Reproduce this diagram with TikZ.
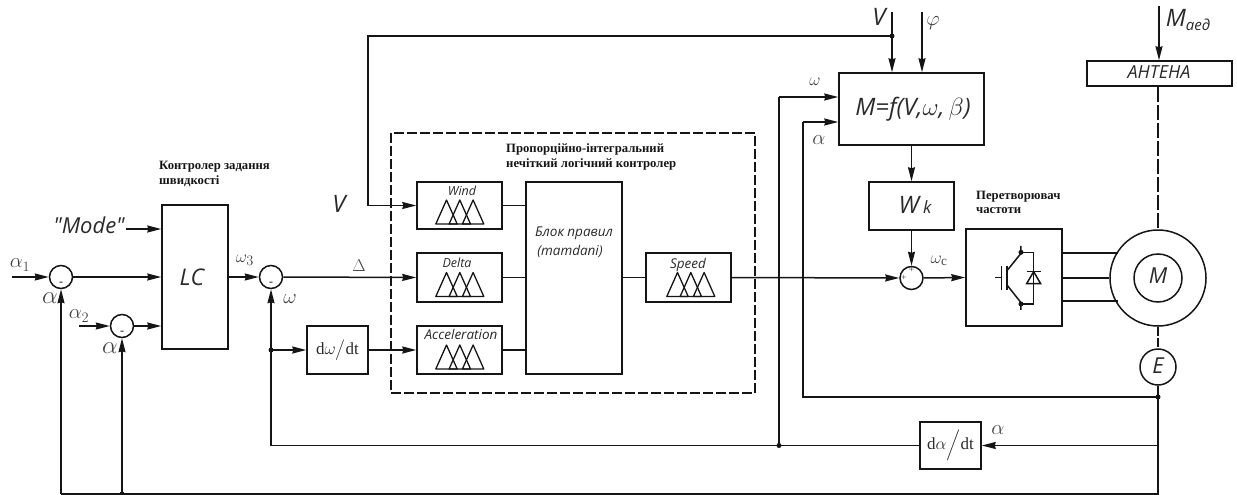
\documentclass[tikz,border=0pt]{standalone}
\usepackage{fontspec}
\usepackage{amsmath}
\setmainfont{Liberation Serif}
\newfontfamily\gost{Open Sans}
\usetikzlibrary{arrows.meta}
\definecolor{ink}{HTML}{151515}
\definecolor{soft}{HTML}{2A2A2A}
\definecolor{greek}{HTML}{444444}
\newcommand{\gs}[1]{\fontsize{#1}{#1}\selectfont\gost\itshape}
\newcommand{\ttl}{\fontsize{12.7}{12.7}\selectfont\bfseries}
\newcommand{\fuzzy}[2]{\begin{scope}[shift={(#1,#2)}]
\draw[fz] (-10.7,0) -- (0,-24) -- (10.7,0) -- cycle;
\draw[fz] (2.6,0) -- (13.3,-24) -- (24,0) -- cycle;
\draw[fz] (15.9,0) -- (26.6,-24) -- (37.3,0) -- cycle;
\end{scope}}
\tikzset{
  x=1pt,y=-1pt,
  line width=1.5pt,color=ink,
  every node/.style={text=soft},
  blk/.style={draw=ink,rectangle,inner sep=0pt,line width=1.5pt},
  sumc/.style={draw=ink,circle,inner sep=0pt,minimum size=23pt,line width=1.5pt},
  wire/.style={line width=1.5pt,draw=ink},
  arr/.style={wire,-{Stealth[length=14pt,width=7pt,inset=1pt]}},
  dash1/.style={wire,dash pattern=on 10pt off 3pt},
  dash2/.style={line width=1.2pt,draw=ink,dash pattern=on 15pt off 3pt},
  fz/.style={line width=1.3pt,draw=ink,line join=round},
  dotc/.style={circle,fill=ink,draw=none,inner sep=0pt,minimum size=5pt},
  lab/.style={inner sep=0pt,anchor=center},
  gk/.style={inner sep=0pt,anchor=center,text=greek},
  left text/.style={inner sep=0pt,anchor=west,text=ink}
}
\begin{document}
\begin{tikzpicture}
\useasboundingbox (0,0) rectangle (1237,495);
% blocks
\node[blk,minimum width=66pt,minimum height=144pt] (lc) at (195,277) {};
\node[sumc] (s1) at (61,277) {};
\node[sumc] (s2) at (122,326) {};
\node[sumc] (s3) at (271,277) {};
\node[blk,minimum width=61pt,minimum height=48pt] (dw) at (337.5,350) {};
\node[blk,dash1,minimum width=364pt,minimum height=260pt] (pi) at (573,263) {};
\node[blk,minimum width=85pt,minimum height=47pt] (wind) at (459.5,205.5) {};
\node[blk,minimum width=85pt,minimum height=49pt] (delta) at (459.5,277.5) {};
\node[blk,minimum width=85pt,minimum height=48pt] (acc) at (459.5,350) {};
\node[blk,minimum width=96pt,minimum height=192pt] (rules) at (574,278) {};
\node[blk,minimum width=85pt,minimum height=49pt] (speed) at (688.5,277.5) {};
\node[blk,minimum width=145pt,minimum height=72pt] (mf) at (911.5,109) {};
\node[blk,minimum width=85pt,minimum height=48pt] (wk) at (911.5,206) {};
\node[sumc] (s4) at (911.5,278) {};
\node[blk,minimum width=96pt,minimum height=97pt] (conv) at (1014,277.5) {};
\node[blk,minimum width=145pt,minimum height=25pt] (ant) at (1159.5,73.5) {};
\node[draw=ink,circle,inner sep=0pt,minimum size=96pt,line width=1.5pt] (mot) at (1158,278) {};
\node[draw=ink,circle,inner sep=0pt,minimum size=48pt,line width=1.5pt] (rot) at (1158,278) {};
\node[draw=ink,circle,inner sep=0pt,minimum size=36pt,line width=1.5pt] (enc) at (1158,367) {};
\node[blk,minimum width=61pt,minimum height=47pt] (da) at (950.5,445.5) {};
% free ends and junctions
\coordinate (a1) at (12,277);
\coordinate (a2) at (79,326);
\coordinate (modeend) at (126,229);
\coordinate (vtop) at (892,12);
\coordinate (ptop) at (922,12);
\coordinate (mtop) at (1159,6);
\coordinate (jv) at (892,36);
\coordinate (vc1) at (368,36);
\coordinate (vc2) at (368,205.5);
\coordinate (jd) at (271,350);
\coordinate (jo) at (271,445.5);
\coordinate (jw) at (779,445.5);
\coordinate (wtop) at (779,97);
\coordinate (jq) at (1158,397);
\coordinate (aw) at (803,397);
\coordinate (atop) at (803,122);
\coordinate (jr) at (1158,445.5);
\coordinate (br) at (1158,494);
\coordinate (b2) at (122,494);
\coordinate (b1) at (61,494);
\coordinate (m1) at (1118,253);
\coordinate (m3) at (1118,301);
% connectors
\draw[arr] (a1) -- (s1.west);
\draw[arr] (a2) -- (s2.west);
\draw[arr] (s1.east) -- (lc.west |- s1);
\draw[arr] (s2.east) -- (lc.west |- s2);
\draw[arr] (modeend) -- (lc.west |- modeend);
\draw[arr] (lc.east |- s3) -- (s3.west);
\draw[arr] (s3.east) -- (delta.west);
\draw[wire] (jv) -- (vc1) -- (vc2);
\draw[arr] (vc2) -- (wind.west);
\draw[arr] (vtop) -- (mf.north -| vtop);
\draw[arr] (ptop) -- (mf.north -| ptop);
\draw[arr] (jd) -- (dw.west);
\draw[arr] (dw.east) -- (acc.west);
\draw[wire] (wind.east) -- (rules.west |- wind);
\draw[wire] (delta.east) -- (rules.west |- delta);
\draw[wire] (acc.east) -- (rules.west |- acc);
\draw[wire] (rules.east |- speed) -- (speed.west);
\draw[arr] (speed.east) -- (s4.west);
\draw[arr] (s4.east) -- (conv.west);
\draw[arr] (mf.south) -- (wk.north);
\draw[arr] (wk.south) -- (s4.north);
\draw[arr] (mtop) -- (ant.north -| mtop);
\draw[dash2] (ant.south -| mot.north) -- (mot.north);
\draw[dash2,dash pattern=on 9pt off 2pt] (mot.south) -- (enc.north);
\draw[wire] (conv.east |- m1) -- (m1);
\draw[wire] (conv.east |- m3) -- (m3);
\draw[wire] (conv.east |- mot) -- (mot.west);
\draw[wire] (enc.south) -- (br) -- (b1);
\draw[arr] (b1) -- (s1.south);
\draw[arr] (b2) -- (s2.south);
\draw[wire] (jq) -- (aw) -- (atop);
\draw[arr] (atop) -- (mf.west |- atop);
\draw[wire] (jw) -- (wtop);
\draw[arr] (wtop) -- (mf.west |- wtop);
\draw[arr] (jr) -- (da.east);
\draw[wire] (da.west) -- (jo);
\draw[arr] (jo) -- (s3.south);
\node[dotc] at (jv) {};
\node[dotc] at (jd) {};
\node[dotc] at (jw) {};
\node[dotc] at (jq) {};
\node[dotc] at (b2) {};
% fuzzy sets
\fuzzy{446.5}{224}
\fuzzy{446.5}{296.5}
\fuzzy{446.5}{369}
\fuzzy{677.5}{296.5}
% IGBT and diode
\begin{scope}[shift={(860,220)},x=0.3333pt,y=-0.3333pt]
\draw[wire] (405,173) -- (425,173);
\draw[wire] (425,138) -- (425,210);
\draw[wire] (441,138) -- (441,210);
\draw[wire] (441,152) -- (483,100) -- (483,78);
\draw[wire] (441,195) -- (483,248) -- (483,270);
\draw[wire] (483,97) -- (521,97) -- (521,252) -- (483,252);
\draw[wire] (500,155) -- (542,155);
\draw[wire] (521,155) -- (500,191) -- (542,191) -- cycle;
\node[dotc] at (483,97) {};
\node[dotc] at (483,252) {};
\end{scope}
% signs
\node[lab,font=\fontsize{12}{12}\selectfont\bfseries] at (61,284) {-};
\node[lab,font=\fontsize{12}{12}\selectfont\bfseries] at (122,333) {-};
\node[lab,font=\fontsize{12}{12}\selectfont\bfseries] at (271,284) {-};
\node[lab,font=\fontsize{9}{9}\selectfont] at (911.5,270) {+};
\node[lab,font=\fontsize{9}{9}\selectfont] at (904,277.5) {+};
% texts
\node[left text,font=\ttl] at (159,167) {Контролер задання};
\node[left text,font=\ttl] at (159,181) {швидкості};
\node[left text,font=\ttl] at (506,149) {Пропорційно-інтегральний};
\node[left text,font=\ttl] at (506,164) {нечіткий логічний контролер};
\node[left text,font=\ttl] at (976,197) {Перетворювач};
\node[left text,font=\ttl] at (976,211) {частоти};
\node[lab,font=\gs{22}] at (89,225) {"Mode"};
\node[lab,font=\gs{23}] at (192,277) {LC};
\node[lab,font=\gs{24}] at (339,204) {V};
\node[lab,font=\gs{24}] at (879,17) {V};
\node[lab,font=\gs{12.5}] at (462,191) {Wind};
\node[lab,font=\gs{12.5}] at (457,263) {Delta};
\node[lab,font=\gs{13.5}] at (461,334) {Acceleration};
\node[lab,font=\gs{13.5}] at (688,265) {Speed};
\node[lab,font=\gs{13.5}] at (574,233) {Блок правил};
\node[lab,font=\gs{13.5}] at (570,251) {(mamdani)};
\node[lab,font=\gs{24}] at (913,109) {M=f(V,$\omega$,$\,\beta$)};
\node[lab,font=\gs{24}] at (915,205) {W\,{\fontsize{17}{17}\selectfont k}};
\node[lab,font=\gs{18}] at (1159,72) {АНТЕНА};
\node[lab,font=\gs{24}] at (1188,20) {M\raisebox{-4pt}{\fontsize{15}{15}\selectfont аед}};
\node[lab,font=\gs{22}] at (1158,276) {M};
\node[lab,font=\gs{22}] at (1158,366) {E};
\node[gk,font=\fontsize{22}{22}\selectfont] at (20,265) {$\alpha_{1}$};
\node[gk,font=\fontsize{22}{22}\selectfont] at (79,316) {$\alpha_{2}$};
\node[gk,font=\fontsize{24}{24}\selectfont] at (50,298) {$\alpha$};
\node[gk,font=\fontsize{24}{24}\selectfont] at (110,348) {$\alpha$};
\node[gk,font=\fontsize{19}{19}\selectfont] at (245,260) {$\omega_{3}$};
\node[gk,font=\fontsize{21}{21}\selectfont] at (290,299) {$\omega$};
\node[gk,font=\fontsize{18}{18}\selectfont] at (359,266) {$\Delta$};
\node[gk,font=\fontsize{21}{21}\selectfont] at (933,23) {$\varphi$};
\node[gk,font=\fontsize{18}{18}\selectfont] at (815,82) {$\omega$};
\node[gk,font=\fontsize{20}{20}\selectfont] at (819,140) {$\alpha$};
\node[gk,font=\fontsize{19}{19}\selectfont] at (939,261) {$\omega_{\mathrm{c}}$};
\node[gk,font=\fontsize{20}{20}\selectfont] at (998,430) {$\alpha$};
\node[lab,font=\fontsize{17}{17}\selectfont] at (337.5,350) {d$\omega\big/$dt};
\node[lab,font=\fontsize{17}{17}\selectfont] at (950.5,445.5) {d$\alpha\Big/$dt};
\end{tikzpicture}
\end{document}
